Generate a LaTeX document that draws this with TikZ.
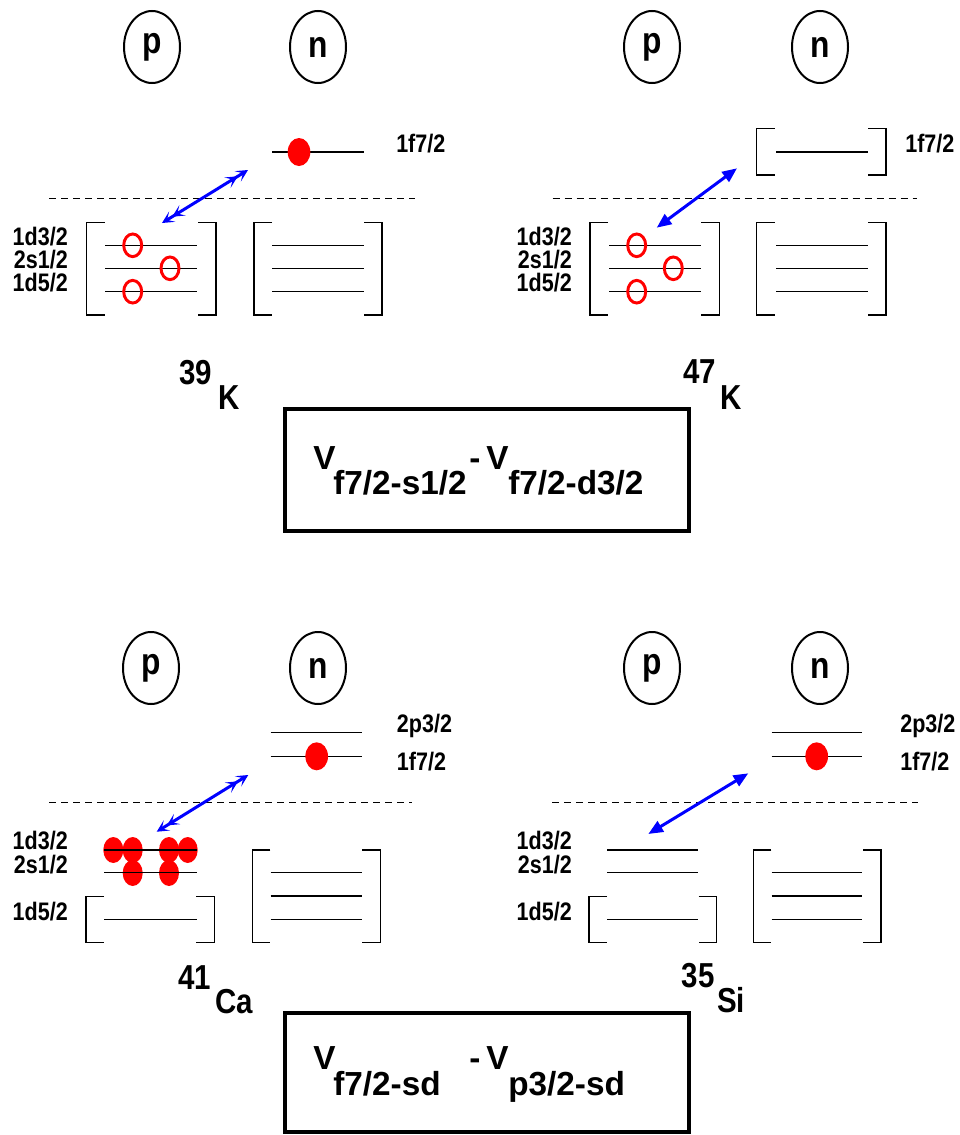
\documentclass[tikz,border=0pt]{standalone}
\usepackage{fontspec}
\setmainfont{Liberation Sans}
\newfontfamily\narrowsans{Liberation Sans}[FakeStretch=0.85]
\usetikzlibrary{arrows.meta,shapes.geometric}
\tikzset{
  lvl/.style={line width=1pt},
  brk/.style={line width=1.1pt},
  dash line/.style={line width=1pt, dash pattern=on 5.25pt off 3.75pt},
  lab/.style={inner sep=0pt, font=\narrowsans\fontsize{19pt}{21pt}\selectfont\bfseries},
  nuc/.style={inner sep=0pt, font=\narrowsans\fontsize{26pt}{28pt}\selectfont\bfseries},
  formula/.style={inner sep=0pt, font=\fontsize{25pt}{28pt}\selectfont\bfseries},
  pn/.style={draw, ellipse, line width=1.5pt, minimum width=42pt, minimum height=54pt, inner sep=0pt,
    font=\narrowsans\fontsize{28pt}{30pt}\selectfont\bfseries},
  hole/.style={draw=red, ellipse, line width=2.2pt, minimum width=13.5pt, minimum height=17pt, inner sep=0pt},
  part/.style={fill=red, ellipse, minimum width=15pt, minimum height=19.5pt, inner sep=0pt},
  npart/.style={fill=red, ellipse, minimum width=17pt, minimum height=21pt, inner sep=0pt},
  dblarrow/.style={draw=blue, line width=2.25pt,
    {Stealth[length=9pt,width=9pt,inset=4.5pt]Stealth[length=9pt,width=9pt,inset=4.5pt]}-{Stealth[length=9pt,width=9pt,inset=4.5pt]Stealth[length=9pt,width=9pt,inset=4.5pt]}},
  triarrow/.style={draw=blue, line width=2.25pt,
    {Triangle[length=11pt,width=9pt]}-{Triangle[length=11pt,width=9pt]}},
  framebox/.style={draw, line width=3pt, inner sep=0pt},
}
\newcommand\lvbracket[4]{%
  \draw[brk] ({#1+18},#3) -- (#1,#3) -- (#1,#4) -- ({#1+18},#4);
  \draw[brk] ({#2-18},#3) -- (#2,#3) -- (#2,#4) -- ({#2-18},#4);}
\newcommand\lvline[3]{\draw[lvl] (#1,#3) -- (#2,#3);}
\begin{document}
\begin{tikzpicture}[x=0.75pt,y=-0.75pt]
\useasboundingbox (0,0) rectangle (960,1135);

% ================= top-left: 39K =================
\node[pn] (p1) at (152,47) {p};
\node[pn] (n1) at (318,47) {n};
\lvline{272}{364}{152}
\node[npart] (d1) at (299,152) {};
\node[lab, anchor=base west] (l1f1) at (396,152) {1f7/2};
\draw[dash line] (49,198.7) -- (415,198.7);
\lvbracket{86.7}{216}{222.7}{315}
\lvline{105}{197}{245.3}\lvline{105}{197}{268.3}\lvline{105}{197}{291.7}
\node[hole] (h1a) at (132.7,245.3) {};
\node[hole] (h1b) at (170,268.3) {};
\node[hole] (h1c) at (132.7,291.7) {};
\node[lab, anchor=base east] (l1a) at (68,245.3) {1d3/2};
\node[lab, anchor=base east] (l1b) at (68,268.3) {2s1/2};
\node[lab, anchor=base east] (l1c) at (68,291.7) {1d5/2};
\lvbracket{254}{382}{222.7}{315}
\lvline{272}{364}{245.3}\lvline{272}{364}{268.3}\lvline{272}{364}{291.7}
\coordinate (a1s) at (162,223);
\coordinate (a1e) at (248,170);
\draw[dblarrow] (a1s) -- (a1e);
\node[nuc, anchor=base west] (m1) at (179,384) {39};
\node[nuc, anchor=base west] (e1) at (218,409) {K};

% ================= top-right: 47K =================
\node[pn] (p2) at (652,47) {p};
\node[pn] (n2) at (820,47) {n};
\lvbracket{756.7}{886}{128.3}{175}
\lvline{776}{868}{152}
\node[lab, anchor=base west] (l1f2) at (905,152) {1f7/2};
\draw[dash line] (552.7,198.7) -- (916.7,198.7);
\lvbracket{590}{719.3}{222.7}{315}
\lvline{609}{701}{245.3}\lvline{609}{701}{268.3}\lvline{609}{701}{291.7}
\node[hole] (h2a) at (636.7,245.3) {};
\node[hole] (h2b) at (673.3,268.3) {};
\node[hole] (h2c) at (636.7,291.7) {};
\node[lab, anchor=base east] (l2a) at (572,245.3) {1d3/2};
\node[lab, anchor=base east] (l2b) at (572,268.3) {2s1/2};
\node[lab, anchor=base east] (l2c) at (572,291.7) {1d5/2};
\lvbracket{756.7}{886}{222.7}{315}
\lvline{776}{868}{245.3}\lvline{776}{868}{268.3}\lvline{776}{868}{291.7}
\coordinate (a2s) at (656.7,227.7);
\coordinate (a2e) at (737,168.3);
\draw[triarrow] (a2s) -- (a2e);
\node[nuc, anchor=base west] (m2) at (683,383) {47};
\node[nuc, anchor=base west] (e2) at (720.5,409) {K};

% ================= top formula box =================
\node[framebox, minimum width=303pt, minimum height=91.5pt] (box1) at (487,470) {};
\node[formula, anchor=base west] (v1a) at (313,469) {V};
\node[formula, anchor=base west] (s1a) at (333,494) {f7/2-s1/2};
\node[formula, anchor=base west] (m1a) at (469,469) {-};
\node[formula, anchor=base west] (v1b) at (486,469) {V};
\node[formula, anchor=base west] (s1b) at (508,494) {f7/2-d3/2};

% ================= bottom-left: 41Ca =================
\node[pn] (p3) at (151,668) {p};
\node[pn] (n3) at (318,668) {n};
\lvline{270.7}{362.3}{732.7}\lvline{270.7}{362.3}{756.3}
\node[npart] (d3) at (316.7,756.3) {};
\node[lab, anchor=base west] (l2p3) at (396.7,732.7) {2p3/2};
\node[lab, anchor=base west] (l1f3) at (396.7,770) {1f7/2};
\draw[dash line] (49,802.7) -- (412,802.7);
\node[part] (q1) at (113.3,850) {};
\node[part] (q2) at (132.7,850) {};
\node[part] (q3) at (169,850) {};
\node[part] (q4) at (187.7,850) {};
\node[part] (q5) at (132.7,873) {};
\node[part] (q6) at (169,873) {};
\lvline{104.3}{196.7}{850}\lvline{104.3}{196.7}{872.7}
\lvbracket{86}{214.3}{896.7}{942.7}
\lvline{104.3}{196.7}{919.3}
\node[lab, anchor=base east] (l3a) at (68,849.5) {1d3/2};
\node[lab, anchor=base east] (l3b) at (68,873.5) {2s1/2};
\node[lab, anchor=base east] (l3c) at (68,920) {1d5/2};
\lvbracket{252.3}{380.3}{850}{942.7}
\lvline{270.7}{362.3}{872.7}\lvline{270.7}{362.3}{896}\lvline{270.7}{362.3}{919.3}
\coordinate (a3s) at (156.7,831.7);
\coordinate (a3e) at (248.3,775);
\draw[dblarrow] (a3s) -- (a3e);
\node[nuc, anchor=base west] (m3) at (178,989) {41};
\node[nuc, anchor=base west] (e3) at (215,1013) {Ca};

% ================= bottom-right: 35Si =================
\node[pn] (p4) at (652,668) {p};
\node[pn] (n4) at (820,668) {n};
\lvline{771.7}{862.3}{732.7}\lvline{771.7}{862.3}{756.3}
\node[npart] (d4) at (816.7,756.3) {};
\node[lab, anchor=base west] (l2p4) at (900,732.7) {2p3/2};
\node[lab, anchor=base west] (l1f4) at (900,770) {1f7/2};
\draw[dash line] (552,802.7) -- (918,802.7);
\lvline{607.3}{698.3}{850}\lvline{607.3}{698.3}{872.7}
\lvbracket{589}{716.7}{896.7}{942.7}
\lvline{607.3}{698.3}{919.3}
\node[lab, anchor=base east] (l4a) at (572,849.5) {1d3/2};
\node[lab, anchor=base east] (l4b) at (572,873.5) {2s1/2};
\node[lab, anchor=base east] (l4c) at (572,920) {1d5/2};
\lvbracket{753.3}{881}{850}{942.7}
\lvline{771.7}{862.3}{872.7}\lvline{771.7}{862.3}{896}\lvline{771.7}{862.3}{919.3}
\coordinate (a4s) at (648.3,834);
\coordinate (a4e) at (748.3,773.3);
\draw[triarrow] (a4s) -- (a4e);
\node[nuc, anchor=base west] (m4) at (681.5,987) {35};
\node[nuc, anchor=base west] (e4) at (717,1012) {Si};

% ================= bottom formula box =================
\node[framebox, minimum width=303pt, minimum height=89.25pt] (box2) at (487,1072.5) {};
\node[formula, anchor=base west] (v2a) at (313,1069) {V};
\node[formula, anchor=base west] (s2a) at (333,1095) {f7/2-sd};
\node[formula, anchor=base west] (m2a) at (469,1069) {-};
\node[formula, anchor=base west] (v2b) at (486,1069) {V};
\node[formula, anchor=base west] (s2b) at (508,1095) {p3/2-sd};
\end{tikzpicture}
\end{document}
